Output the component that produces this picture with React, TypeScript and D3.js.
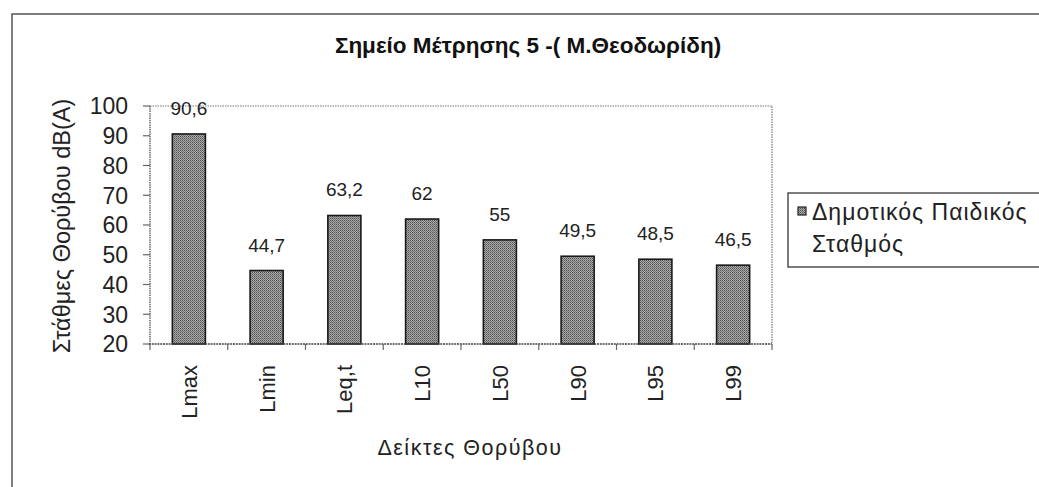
import React from "react";
import * as d3 from "d3";

// Noise indices and measured levels, dB(A)
const categories = ["Lmax", "Lmin", "Leq,t", "L10", "L50", "L90", "L95", "L99"];
const values = [90.6, 44.7, 63.2, 62, 55, 49.5, 48.5, 46.5];
const valueLabels = ["90,6", "44,7", "63,2", "62", "55", "49,5", "48,5", "46,5"];
const yTicks = [20, 30, 40, 50, 60, 70, 80, 90, 100];
const title = "Σημείο Μέτρησης 5 -( Μ.Θεοδωρίδη)";
const yTitle = "Στάθμες Θορύβου dB(A)";
const xTitle = "Δείκτες Θορύβου";
const seriesName = ["Δημοτικός Παιδικός", "Σταθμός"];

const W = 1039;
const H = 487;
const plot = { left: 150, right: 772, top: 106, bottom: 344 };
const FONT = "'Liberation Sans', Arial, sans-serif";

export default function App() {
  const x = d3
    .scaleBand<string>()
    .domain(categories)
    .range([plot.left, plot.right])
    .paddingInner(0.575)
    .paddingOuter(0.2875);
  const y = d3.scaleLinear().domain([20, 100]).range([plot.bottom, plot.top]);
  const step = x.step();
  const boundaries = d3.range(categories.length + 1).map((i) => plot.left + i * step);

  return (
    <svg
      width={W}
      height={H}
      style={{ position: "absolute", left: 0, top: 0, background: "#fff" }}
      fontFamily={FONT}
    >
      <defs>
        <pattern id="dots" width={2} height={2} patternUnits="userSpaceOnUse">
          <rect width={2} height={2} fill="#ababab" />
          <rect width={1} height={1} fill="#505050" />
          <rect x={1} y={1} width={1} height={1} fill="#727272" />
        </pattern>
      </defs>

      {/* outer chart frame */}
      <rect x={12} y={14} width={W + 20} height={H + 20} fill="none" stroke="#555" strokeWidth={1.5} />

      {/* title */}
      <text x={528} y={53} textAnchor="middle" fontSize={22.5} fontWeight="bold" fill="#111">
        {title}
      </text>

      {/* plot area border */}
      <path
        d={`M${plot.left},${plot.top}H${plot.right}V${plot.bottom}`}
        fill="none"
        stroke="#777"
        strokeWidth={1.2}
        strokeDasharray="1.5,1"
      />
      <line x1={plot.left} x2={plot.left} y1={plot.top} y2={plot.bottom} stroke="#555" strokeWidth={1.3} strokeDasharray="1.5,0.8" />

      {/* y axis ticks and labels */}
      {yTicks.map((t) => (
        <g key={t}>
          <line x1={plot.left - 7} x2={plot.left} y1={y(t)} y2={y(t)} stroke="#666" strokeWidth={1.2} />
          <text x={128} y={y(t)} dy="0.36em" textAnchor="end" fontSize={23} fill="#222">
            {t}
          </text>
        </g>
      ))}

      {/* bars */}
      {values.map((v, i) => (
        <rect
          key={categories[i]}
          x={x(categories[i])}
          y={y(v)}
          width={x.bandwidth()}
          height={y(20) - y(v)}
          fill="url(#dots)"
          stroke="#1a1a1a"
          strokeWidth={1.6}
        />
      ))}

      {/* value labels */}
      {values.map((v, i) => (
        <text
          key={"l" + i}
          x={(x(categories[i]) as number) + x.bandwidth() / 2}
          y={y(v) - 19}
          textAnchor="middle"
          fontSize={19}
          fill="#222"
        >
          {valueLabels[i]}
        </text>
      ))}

      {/* x axis */}
      <line x1={plot.left - 1} x2={plot.right} y1={plot.bottom} y2={plot.bottom} stroke="#444" strokeWidth={1.4} strokeDasharray="2,0.8" />
      {boundaries.map((bx, i) => (
        <line key={"t" + i} x1={bx} x2={bx} y1={plot.bottom} y2={plot.bottom + 6} stroke="#666" strokeWidth={1.2} />
      ))}
      {categories.map((c) => {
        const cx = (x(c) as number) + x.bandwidth() / 2 + 8;
        return (
          <text
            key={"c" + c}
            transform={`translate(${cx},${plot.bottom + 21}) rotate(-90)`}
            textAnchor="end"
            fontSize={22}
            fill="#222"
          >
            {c}
          </text>
        );
      })}

      {/* axis titles */}
      <text x={470} y={455} textAnchor="middle" fontSize={21.5} letterSpacing={1.5} fill="#222">
        {xTitle}
      </text>
      <text transform={`translate(70,226) rotate(-90)`} textAnchor="middle" fontSize={23.5} fill="#222">
        {yTitle}
      </text>

      {/* legend */}
      <rect x={788} y={193} width={300} height={74} fill="#fff" stroke="#444" strokeWidth={1.4} />
      <rect x={798} y={207} width={8} height={8} fill="url(#dots)" stroke="#222" strokeWidth={1.2} />
      <text x={812} y={220} fontSize={23} letterSpacing={1} fill="#222">
        {seriesName[0]}
      </text>
      <text x={812} y={252} fontSize={23} letterSpacing={1} fill="#222">
        {seriesName[1]}
      </text>
    </svg>
  );
}
